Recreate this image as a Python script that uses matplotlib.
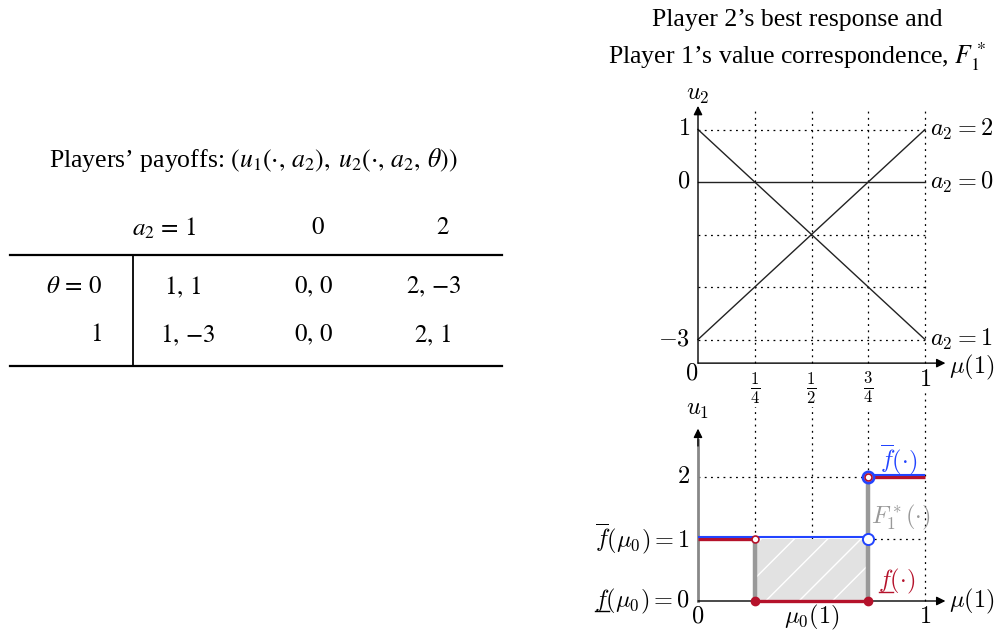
import matplotlib
matplotlib.use('Agg')
import matplotlib.pyplot as plt
from matplotlib import transforms
from matplotlib.lines import Line2D

plt.rcParams['font.family'] = 'Liberation Serif'
plt.rcParams['mathtext.fontset'] = 'cm'

# payoff table: u1(., a2), u2(., a2, theta)
A2 = [1, 0, 2]
U1 = [1, 0, 2]
U2_THETA0 = [1, 0, -3]
U2_THETA1 = [-3, 0, 1]
THETAS = [0, 1]

MU_TICKS = [0.25, 0.5, 0.75, 1]
MU_TICK_LABELS = [r'$\frac{1}{4}$', r'$\frac{1}{2}$', r'$\frac{3}{4}$', r'$1$']
U2_TICKS = [1, 0, -3]
U2_GRID = [1, -1, -2, -3]

# value correspondence
MU0 = 0.25
MU_JUMP = 0.75
UPPER_X = [[0, 0.75], [0.75, 1]]
UPPER_Y = [1, 2]
LOWER_X = [[0, 0.25], [0.25, 0.75], [0.75, 1]]
LOWER_Y = [1, 0, 2]
FSTAR_X = [0.25, 0.75]
FSTAR_TOP = [1, 2]

BLUE = '#2244ff'
RED = '#b5122b'
GRAY = '#999999'
DOTS = dict(color='k', lw=0.9, linestyle=(0, (1.5, 3.5)))
ARROW = dict(arrowstyle='-|>', color='k', lw=1.0, mutation_scale=13,
             shrinkA=0, shrinkB=0)
fs = 17.5


def num(v):
    # braces keep mathtext from spacing a leading minus as a binary operator
    return '{%d}' % v


fig = plt.figure(figsize=(10, 6.33), dpi=100)

# page overlay for title and table, in pixel units
page = fig.add_axes([0, 0, 1, 1])
page.set_xlim(0, 1000)
page.set_ylim(633, 0)
page.axis('off')

page.text(797, 20, 'Player 2’s best response and', ha='center', va='center',
          fontsize=18.5)
page.text(797, 57, 'Player 1’s value correspondence, $F_1^*$', ha='center',
          va='center', fontsize=18.5, math_fontfamily='stix')

page.text(253, 160,
          r'Players’ payoffs: $(u_1(\cdot,\, a_2),\; u_2(\cdot,\, a_2,\, \theta))$',
          ha='center', va='center', fontsize=18.5, math_fontfamily='stix')

header_x = [164, 318, 443]
cell_x = [[183, 314, 434], [188, 314, 433]]
row_y = [287, 335]
tab = dict(ha='center', va='center', fontsize=18, math_fontfamily='stix')
for i, a2 in enumerate(A2):
    label = rf'$a_2\, =\, {a2}$' if i == 0 else f'${a2}$'
    page.text(header_x[i], 228, label, **tab)
for r, u2_row in enumerate([U2_THETA0, U2_THETA1]):
    label = rf'$\theta\, =\, {THETAS[r]}$' if r == 0 else f'${THETAS[r]}$'
    page.text(102, row_y[r], label, ha='right', va='center', fontsize=18,
              math_fontfamily='stix')
    for i in range(len(A2)):
        page.text(cell_x[r][i], row_y[r],
                  rf'${num(U1[i])},\, {num(u2_row[i])}$', **tab)
page.plot([10, 502], [255, 255], color='k', lw=1.6)
page.plot([10, 502], [366, 366], color='k', lw=1.6)
page.plot([133, 133], [255, 366], color='k', lw=1.3)

# axes geometry (pixels)
x0_px, px_per_mu = 698, 227
xlim = (-0.05, 1.15)
ax_left = (x0_px + xlim[0] * px_per_mu) / 1000
ax_width = (xlim[1] - xlim[0]) * px_per_mu / 1000

# bottom panel: value correspondence
b_zero, b_scale = 601, 62
b_ylim = (-0.1, 3.4)
b_bottom = b_zero - b_ylim[0] * b_scale
b_top = b_zero - b_ylim[1] * b_scale
axb = fig.add_axes([ax_left, (633 - b_bottom) / 633, ax_width,
                    (b_bottom - b_top) / 633])
axb.set_xlim(*xlim)
axb.set_ylim(*b_ylim)
axb.axis('off')
axb.patch.set_alpha(0)

for m in MU_TICKS:
    axb.plot([m, m], [0, b_ylim[1]], **DOTS, zorder=1)
axb.plot([0, MU_JUMP], [2, 2], **DOTS, zorder=1)
axb.plot([MU_JUMP, 1], [1, 1], **DOTS, zorder=1)

axb.fill_between([MU0, MU_JUMP], LOWER_Y[1], UPPER_Y[0], facecolor='#e2e2e2',
                 edgecolor='white', hatch='/', lw=0, zorder=2)
axb.vlines(FSTAR_X, 0, FSTAR_TOP, color=GRAY, lw=3.2, zorder=3)

axb.plot([0, 0], [0, 2.6], color='#888888', lw=2, zorder=3)
axb.annotate('', xy=(0, 2.78), xytext=(0, 2.5), arrowprops=ARROW)
axb.annotate('', xy=(1.09, 0), xytext=(0, 0), arrowprops=ARROW, zorder=3)

up = transforms.offset_copy(axb.transData, fig=fig, x=0, y=2, units='dots')
for xs, y in zip(LOWER_X, LOWER_Y):
    axb.plot(xs, [y, y], color=RED, lw=2.4, zorder=4, solid_capstyle='butt')
for xs, y in zip(UPPER_X, UPPER_Y):
    axb.plot(xs, [y, y], color=BLUE, lw=1.5, zorder=5, transform=up,
             solid_capstyle='butt')

axb.plot([MU0, MU_JUMP], [0, 0], 'o', color=RED, ms=6, zorder=6)
axb.plot([MU0], [1], 'o', mfc='white', mec=RED, mew=1.2, ms=5, zorder=6)
axb.plot([MU_JUMP], [1], 'o', mfc='white', mec=BLUE, mew=1.4, ms=8, zorder=6)
axb.plot([MU_JUMP], [2], 'o', mfc='white', mec=BLUE, mew=2, ms=8, zorder=6)
axb.plot([MU_JUMP], [2], 'o', mfc='white', mec=RED, mew=1.2, ms=5, zorder=7)

axb.text(0, 2.9, '$u_1$', ha='center', va='bottom', fontsize=fs)
axb.text(1.105, 0, r'$\mu(1)$', ha='left', va='center', fontsize=fs)
axb.text(-0.035, 2, '$2$', ha='right', va='center', fontsize=fs)
axb.text(-0.035, 1, r'$\overline{f}(\mu_0) = 1$', ha='right', va='center',
         fontsize=fs)
low_lab = axb.text(-0.035, 0, r'$f(\mu_0) = 0$', ha='right', va='center',
                   fontsize=fs)
axb.text(0, -0.26, '$0$', ha='center', va='center', fontsize=fs)
axb.text(0.5, -0.26, r'$\mu_0(1)$', ha='center', va='center', fontsize=fs)
axb.text(1, -0.26, '$1$', ha='center', va='center', fontsize=fs)
axb.text(0.885, 2.27, r'$\overline{f}(\cdot)$', color=BLUE, ha='center',
         va='center', fontsize=fs)
axb.text(0.895, 1.34, r'$F_1^*(\cdot)$', color=GRAY, ha='center', va='center',
         fontsize=fs)
low_f = axb.text(0.875, 0.31, r'$f(\cdot)$', color=RED, ha='center',
                 va='center', fontsize=fs)

# top panel: player 2's payoffs against belief
t_zero, t_scale = 182, 52.5
t_ylim = (-3.6, 1.5)
t_bottom = t_zero - t_ylim[0] * t_scale
t_top = t_zero - t_ylim[1] * t_scale
axt = fig.add_axes([ax_left, (633 - t_bottom) / 633, ax_width,
                    (t_bottom - t_top) / 633])
axt.set_xlim(*xlim)
axt.set_ylim(*t_ylim)
axt.axis('off')
axt.patch.set_alpha(0)

x_axis_y = -3.45
for m in MU_TICKS:
    axt.plot([m, m], [x_axis_y, 1.4], **DOTS, zorder=1)
for g in U2_GRID:
    axt.plot([0, 1], [g, g], **DOTS, zorder=1)

for a2, v0, v1 in zip(A2, U2_THETA0, U2_THETA1):
    axt.plot([0, 1], [v0, v1], color='#222222', lw=1.0, zorder=2)
    axt.text(1.02, v1, f'$a_2 = {a2}$', ha='left', va='center', fontsize=fs)

axt.annotate('', xy=(0, 1.45), xytext=(0, x_axis_y), arrowprops=ARROW)
axt.annotate('', xy=(1.09, x_axis_y), xytext=(0, x_axis_y), arrowprops=ARROW)
axt.text(0, 1.45, '$u_2$', ha='center', va='bottom', fontsize=fs)
axt.text(1.105, x_axis_y - 0.08, r'$\mu(1)$', ha='left', va='center',
         fontsize=fs)
for t in U2_TICKS:
    axt.text(-0.035, t, f'${num(t)}$', ha='right', va='center', fontsize=fs)
axt.text(-0.03, -3.65, '$0$', ha='center', va='center', fontsize=fs)

white = dict(fc='white', ec='none', pad=1.0)
for m, lab in zip(MU_TICKS, MU_TICK_LABELS):
    y = -3.78 if m == 1 else -3.93
    axt.text(m, y, lab, ha='center', va='center', fontsize=fs if m == 1 else 17,
             bbox=white, zorder=5)

# mathtext has no \underline: underline the leading f by hand
fig.canvas.draw()
renderer = fig.canvas.get_renderer()
probe = axb.text(0, 0, '$f$', fontsize=fs)
f_width = probe.get_window_extent(renderer).width
probe.remove()
for lab, col in [(low_lab, 'k'), (low_f, RED)]:
    bb = lab.get_window_extent(renderer)
    cy = axb.transData.transform(lab.get_position())[1]
    fig.add_artist(Line2D([bb.x0 + 1, bb.x0 + f_width], [cy - 10, cy - 10],
                          color=col, lw=1.0,
                          transform=transforms.IdentityTransform()))

fig.savefig('out.png', dpi=100)
